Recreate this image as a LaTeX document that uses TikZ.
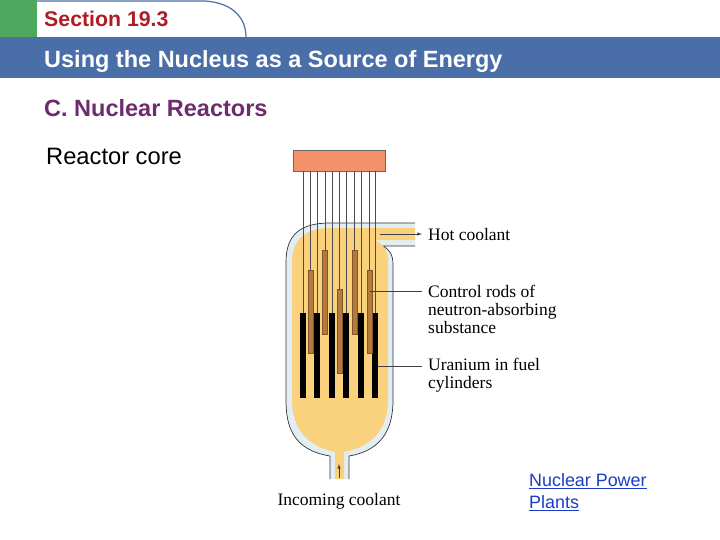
\documentclass[tikz,border=0pt]{standalone}
\usepackage{fontspec}
\setmainfont{Liberation Sans}
\newfontfamily\serifl{Liberation Serif}
\definecolor{band}{HTML}{4A6EA8}
\definecolor{grn}{HTML}{4EA860}
\definecolor{secred}{HTML}{B01C24}
\definecolor{purp}{HTML}{6E2C6E}
\definecolor{core}{HTML}{FAD27E}
\definecolor{shell}{HTML}{E2EEF4}
\definecolor{rodc}{HTML}{B57A3E}
\definecolor{topbox}{HTML}{F4916A}
\definecolor{lnk}{HTML}{1A3CC8}
\begin{document}
\begin{tikzpicture}[x=1pt,y=-1pt,
 lbl/.style={font=\serifl\fontsize{17.5}{18}\selectfont,anchor=west,align=left,inner sep=0pt},
 lead/.style={draw=black!75,line width=0.6pt},
 rodline/.style={draw=black!70,line width=0.7pt},
 fuel/.style={fill=black},
 crod/.style={fill=rodc,draw=rodc!70!black,line width=0.3pt}]
\useasboundingbox (0,0) rectangle (720,540);
% header
\fill[grn] (0,0) rectangle (37,37);
\draw[band,line width=1.2pt] (37,1) -- (205,1) .. controls (235,3) and (246,20) .. (246,37);
\fill[band] (0,37) rectangle (720,78);
\node[anchor=west,text=secred,font=\bfseries\fontsize{21.3}{24}\selectfont,inner sep=0pt] (sec) at (44,19) {Section 19.3};
\node[anchor=west,text=white,font=\bfseries\fontsize{23.5}{26}\selectfont,inner sep=0pt] (ttl) at (44,61) {Using the Nucleus as a Source of Energy};
\node[anchor=west,text=purp,font=\bfseries\fontsize{23.5}{26}\selectfont,inner sep=0pt] (sub) at (44,108) {C. Nuclear Reactors};
\node[anchor=west,font=\fontsize{23.7}{26}\selectfont,inner sep=0pt] (rc) at (46,156) {Reactor core};
% vessel shell
\fill[shell] (330,479) -- (330,456) .. controls (292,450) and (286,425) .. (286,400) -- (286,262) .. controls (286,235) and (300,223) .. (330,223) -- (415,223) -- (415,246) -- (383,246) .. controls (390,250) and (393,255) .. (393,265) -- (393,400) .. controls (393,425) and (385,450) .. (349,456) -- (349,479) -- cycle;
\draw[black!80,line width=0.7pt] (330,479) -- (330,456) .. controls (292,450) and (286,425) .. (286,400) -- (286,262) .. controls (286,235) and (300,223) .. (330,223) -- (415,223);
\draw[black!80,line width=0.7pt] (415,246) -- (383,246) .. controls (390,250) and (393,255) .. (393,265) -- (393,400) .. controls (393,425) and (385,450) .. (349,456) -- (349,479);
\fill[core] (335,479) -- (335,452) .. controls (300,445) and (292,420) .. (292,400) -- (292,262) .. controls (292,240) and (305,228) .. (330,228) -- (415,228) -- (415,240) -- (375,240) .. controls (385,245) and (388,252) .. (388,262) -- (388,400) .. controls (388,420) and (380,445) .. (344,452) -- (344,479) -- cycle;
% top box
\node[draw=black!60,fill=topbox,minimum width=92pt,minimum height=21pt,inner sep=0pt] (box) at (339,160.5) {};
% rod lines
\foreach \x/\y in {303/313,310/270,317/313,325/250,332/313,339/289,346/313,354/250,361/313,369/270,375/313}
 \draw[rodline] (\x,171) -- (\x,\y);
% fuel
\foreach \x in {300,314,329,343,358,372}
 \fill[fuel] (\x,313) rectangle ++(6,85);
% control rods
\foreach \x/\a/\b in {308/270/353,322/250/334,337/289/373,352/250/334,367/270/353}
 \filldraw[crod] (\x,\a) rectangle (\x+5,\b);
% labels
\node[lbl] (hot) at (428,235) {Hot coolant};
\node[lbl] (ctl) at (428,309) {Control rods of\\neutron-absorbing\\substance};
\node[lbl] (ura) at (428,375) {Uranium in fuel\\cylinders};
\node[font=\serifl\fontsize{17.5}{18}\selectfont,inner sep=0pt] (inc) at (339,501) {Incoming coolant};
\coordinate (ha) at (380,234);
\coordinate (hb) at (422,234);
\coordinate (cr) at (370,291);
\coordinate (cb) at (422,291);
\coordinate (uf) at (378,366);
\coordinate (ub) at (422,366);
\coordinate (ia) at (339,478);
\coordinate (ib) at (339,464);
\draw[lead,-latex] (ha) -- (hb);
\draw[lead] (cr) -- (cb);
\draw[lead] (uf) -- (ub);
\draw[lead,-latex] (ia) -- (ib);
\node[anchor=north west,text=lnk,font=\fontsize{17.9}{22}\selectfont,align=left,inner sep=0pt] (np) at (529,473) {\underline{Nuclear Power}\\\underline{Plants}};
\end{tikzpicture}
\end{document}
